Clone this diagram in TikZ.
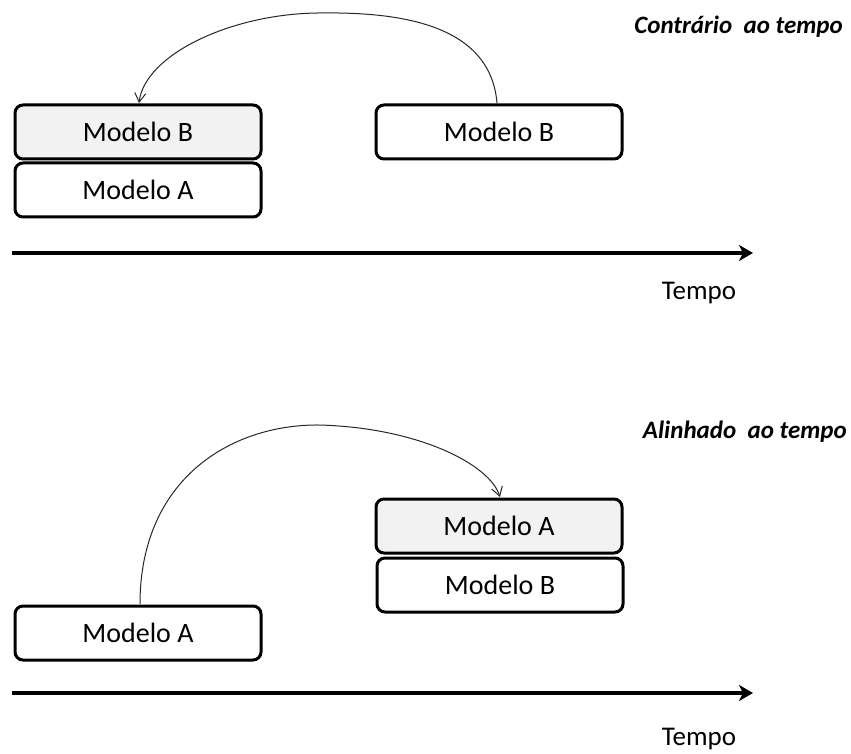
\documentclass[tikz,border=0pt]{standalone}
\usepackage{fontspec}
\setmainfont{Carlito}
\usetikzlibrary{arrows.meta}
\definecolor{boxgray}{HTML}{F2F2F2}
\begin{document}
\begin{tikzpicture}[x=1pt,y=-1pt,
  model/.style={draw=black, line width=3pt, rounded corners=8pt, minimum width=246pt,
    minimum height=54pt, inner sep=0pt, font=\fontsize{28}{32}\selectfont, anchor=north west},
  shaded/.style={fill=boxgray},
  hop/.style={draw=black!85, line width=1pt, -{Straight Barb[length=9pt,width=11pt,line width=1pt]}},
  timeaxis/.style={draw=black, line width=3.5pt, -{Stealth[length=14pt,width=16pt,inset=4pt]}},
  axislabel/.style={font=\fontsize{27}{31}\selectfont, inner sep=0pt},
  caption/.style={font=\fontsize{25}{29}\selectfont\bfseries\itshape, inner sep=0pt, anchor=east}]
\useasboundingbox (0,0) rectangle (851,754);

% --- upper panel: against time ---
\node[caption] (capTop) at (843,27) {Contrário\ \ ao tempo};
\node[model, shaded] (tb1) at (13.5,103.5) {Modelo B};
\node[model] (ta1) at (13.5,161.5) {Modelo A};
\node[model] (tb2) at (374.5,103.5) {Modelo B};
\coordinate (tStart) at (497,103);
\coordinate (tEnd) at (139,103);
\draw[hop] (tStart) .. controls (490,20) and (390,12) .. (318,13)
  .. controls (230,14) and (145,55) .. (tEnd);
\coordinate (ax1a) at (12,253);
\coordinate (ax1b) at (753,253);
\draw[timeaxis] (ax1a) -- (ax1b);
\node[axislabel] (tempo1) at (699,293) {Tempo};

% --- lower panel: aligned with time ---
\node[caption] (capBot) at (847,432) {Alinhado\ \ ao tempo};
\node[model, shaded] (ba1) at (374.5,497.5) {Modelo A};
\node[model] (bb1) at (375.5,556.5) {Modelo B};
\node[model] (ba2) at (13.5,604.5) {Modelo A};
\coordinate (bStart) at (140,604);
\coordinate (bEnd) at (500,497);
\draw[hop] (bStart) .. controls (140,480) and (230,424) .. (320,425)
  .. controls (420,428) and (490,465) .. (bEnd);
\coordinate (ax2a) at (12,693);
\coordinate (ax2b) at (753,693);
\draw[timeaxis] (ax2a) -- (ax2b);
\node[axislabel] (tempo2) at (699,739) {Tempo};
\end{tikzpicture}
\end{document}
